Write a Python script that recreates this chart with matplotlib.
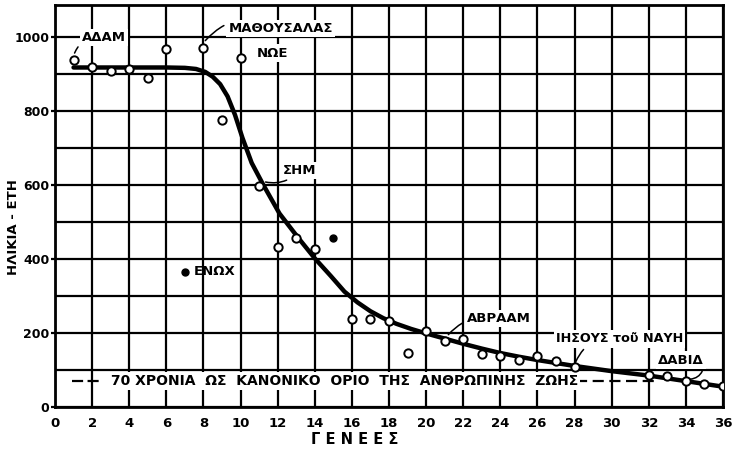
import matplotlib.pyplot as plt

# generations and ages (years)
gen_open = [1, 2, 3, 4, 5, 6, 8, 9, 10, 11, 12, 13, 14, 16, 17, 18, 19, 20,
            21, 22, 23, 24, 25, 26, 27, 28, 32, 33, 34, 35, 36]
age_open = [938, 918, 908, 913, 890, 967, 970, 777, 945, 598, 432, 458, 428,
            238, 238, 232, 147, 205, 178, 183, 143, 137, 128, 138, 125, 108,
            87, 83, 70, 63, 56]
gen_filled = [7, 15]
age_filled = [365, 458]

# hand-drawn trend curve
curve_x = [1, 2, 4, 6, 7, 7.6, 8.1, 8.5, 8.9, 9.3, 9.7, 10.1, 10.6, 11.2,
           12.1, 13.1, 14.0, 14.85, 15.6, 16.3, 17.0, 17.7, 18.4, 19.2, 20,
           21, 22, 23, 24, 25, 26, 28, 30, 32, 34, 36]
curve_y = [918, 918, 918, 918, 917, 914, 906, 893, 873, 840, 790, 728, 660,
           603, 523, 458, 402, 355, 312, 283, 259, 240, 225, 211, 199, 185,
           171, 158, 146, 136, 127, 111, 97, 85, 70, 55]

limit_age = 70
x_ticks = list(range(0, 37, 2))
y_ticks = list(range(0, 1001, 200))

plt.rcParams['font.family'] = 'DejaVu Sans'
plt.rcParams['font.weight'] = 'bold'

fig = plt.figure(figsize=(7.46, 4.53), dpi=100)
ax = fig.add_axes([0.0737, 0.1015, 0.8955, 0.8875])

ax.set_xlim(0, 36)
ax.set_ylim(0, 1087)
ax.set_xticks(x_ticks)
ax.set_yticks(y_ticks)
ax.set_yticks(range(100, 1001, 200), minor=True)
ax.grid(True, which='both', color='black', lw=1.6)
ax.set_axisbelow(True)
ax.tick_params(axis='y', which='major', length=3, width=1.6, pad=1, labelsize=9)
ax.tick_params(axis='y', which='minor', length=0)
ax.tick_params(axis='x', length=0, pad=7, labelsize=9.5)
for lbl in ax.get_xticklabels() + ax.get_yticklabels():
    lbl.set_fontweight('bold')
for s in ax.spines.values():
    s.set_linewidth(2)

ax.plot(curve_x, curve_y, color='black', lw=3.2, solid_capstyle='round',
        solid_joinstyle='round', zorder=3)
ax.plot(gen_open, age_open, 'o', mfc='white', mec='black', ms=6, mew=1.4, zorder=5)
ax.plot(gen_filled, age_filled, 'o', color='black', ms=5, zorder=5)

# 70 years line
box = dict(facecolor='white', edgecolor='none', pad=1.5)
ax.plot([0.9, 2.5], [limit_age, limit_age], color='black', lw=1.6, ls=(0, (5, 2)), zorder=4)
ax.plot([28.1, 32.3], [limit_age, limit_age], color='black', lw=1.6, ls=(0, (5, 2.5)), zorder=4)
ax.text(3.0, limit_age, '70 ΧΡΟΝΙΑ  ΩΣ  ΚΑΝΟΝΙΚΟ  ΟΡΙΟ  ΤΗΣ  ΑΝΘΡΩΠΙΝΗΣ  ΖΩΗΣ',
        fontsize=10, fontweight='bold', va='center', ha='left', bbox=box, zorder=4)

lead = dict(arrowstyle='-', color='black', lw=1.1)
ax.annotate('ΑΔΑΜ', xy=(1, 950), xytext=(1.45, 1000), fontsize=9.5, fontweight='bold',
            va='center', bbox=box, zorder=6,
            arrowprops=dict(lead, connectionstyle='arc3,rad=0.4'))
ax.annotate('ΜΑΘΟΥΣΑΛΑΣ', xy=(8, 985), xytext=(9.35, 1024), fontsize=9.5, fontweight='bold',
            va='center', bbox=box, zorder=6,
            arrowprops=dict(lead, connectionstyle='arc3,rad=0.4'))
ax.text(10.9, 957, 'ΝΩΕ', fontsize=9.5, fontweight='bold', va='center', bbox=box, zorder=6)
ax.annotate('ΣΗΜ', xy=(11.2, 610), xytext=(12.3, 640), fontsize=9.5, fontweight='bold',
            va='center', bbox=box, zorder=6,
            arrowprops=dict(lead, connectionstyle='arc3,rad=-0.3'))
ax.text(7.5, 367, 'ΕΝΩΧ', fontsize=9.5, fontweight='bold', va='center', zorder=6)
ax.annotate('ΑΒΡΑΑΜ', xy=(21.1, 190), xytext=(22.2, 240), fontsize=9.5, fontweight='bold',
            va='center', bbox=box, zorder=6,
            arrowprops=dict(lead, connectionstyle='arc3,rad=0.3'))
ax.annotate('ΙΗΣΟΥΣ τοῦ ΝΑΥΗ', xy=(28, 115), xytext=(27.0, 184), fontsize=9.2,
            fontweight='bold', va='center', bbox=box, zorder=6,
            arrowprops=dict(lead, connectionstyle='arc3,rad=0.4'))
ax.annotate('ΔΑΒΙΔ', xy=(34.1, 75), xytext=(32.5, 127), fontsize=9.5, fontweight='bold',
            va='center', bbox=box, zorder=6,
            arrowprops=dict(lead, connectionstyle='arc3,rad=-0.4',
                            relpos=(1.0, 0.0)))

fig.text(0.018, 0.499, 'ΗΛΙΚΙΑ - ΕΤΗ', rotation=90, fontsize=9.5, fontweight='bold',
         ha='center', va='center')
fig.text(0.476, 0.029, 'Γ Ε Ν Ε Ε Σ', fontsize=10.5, fontweight='bold',
         ha='center', va='center')

fig.savefig('out.png', dpi=100, facecolor='white')
